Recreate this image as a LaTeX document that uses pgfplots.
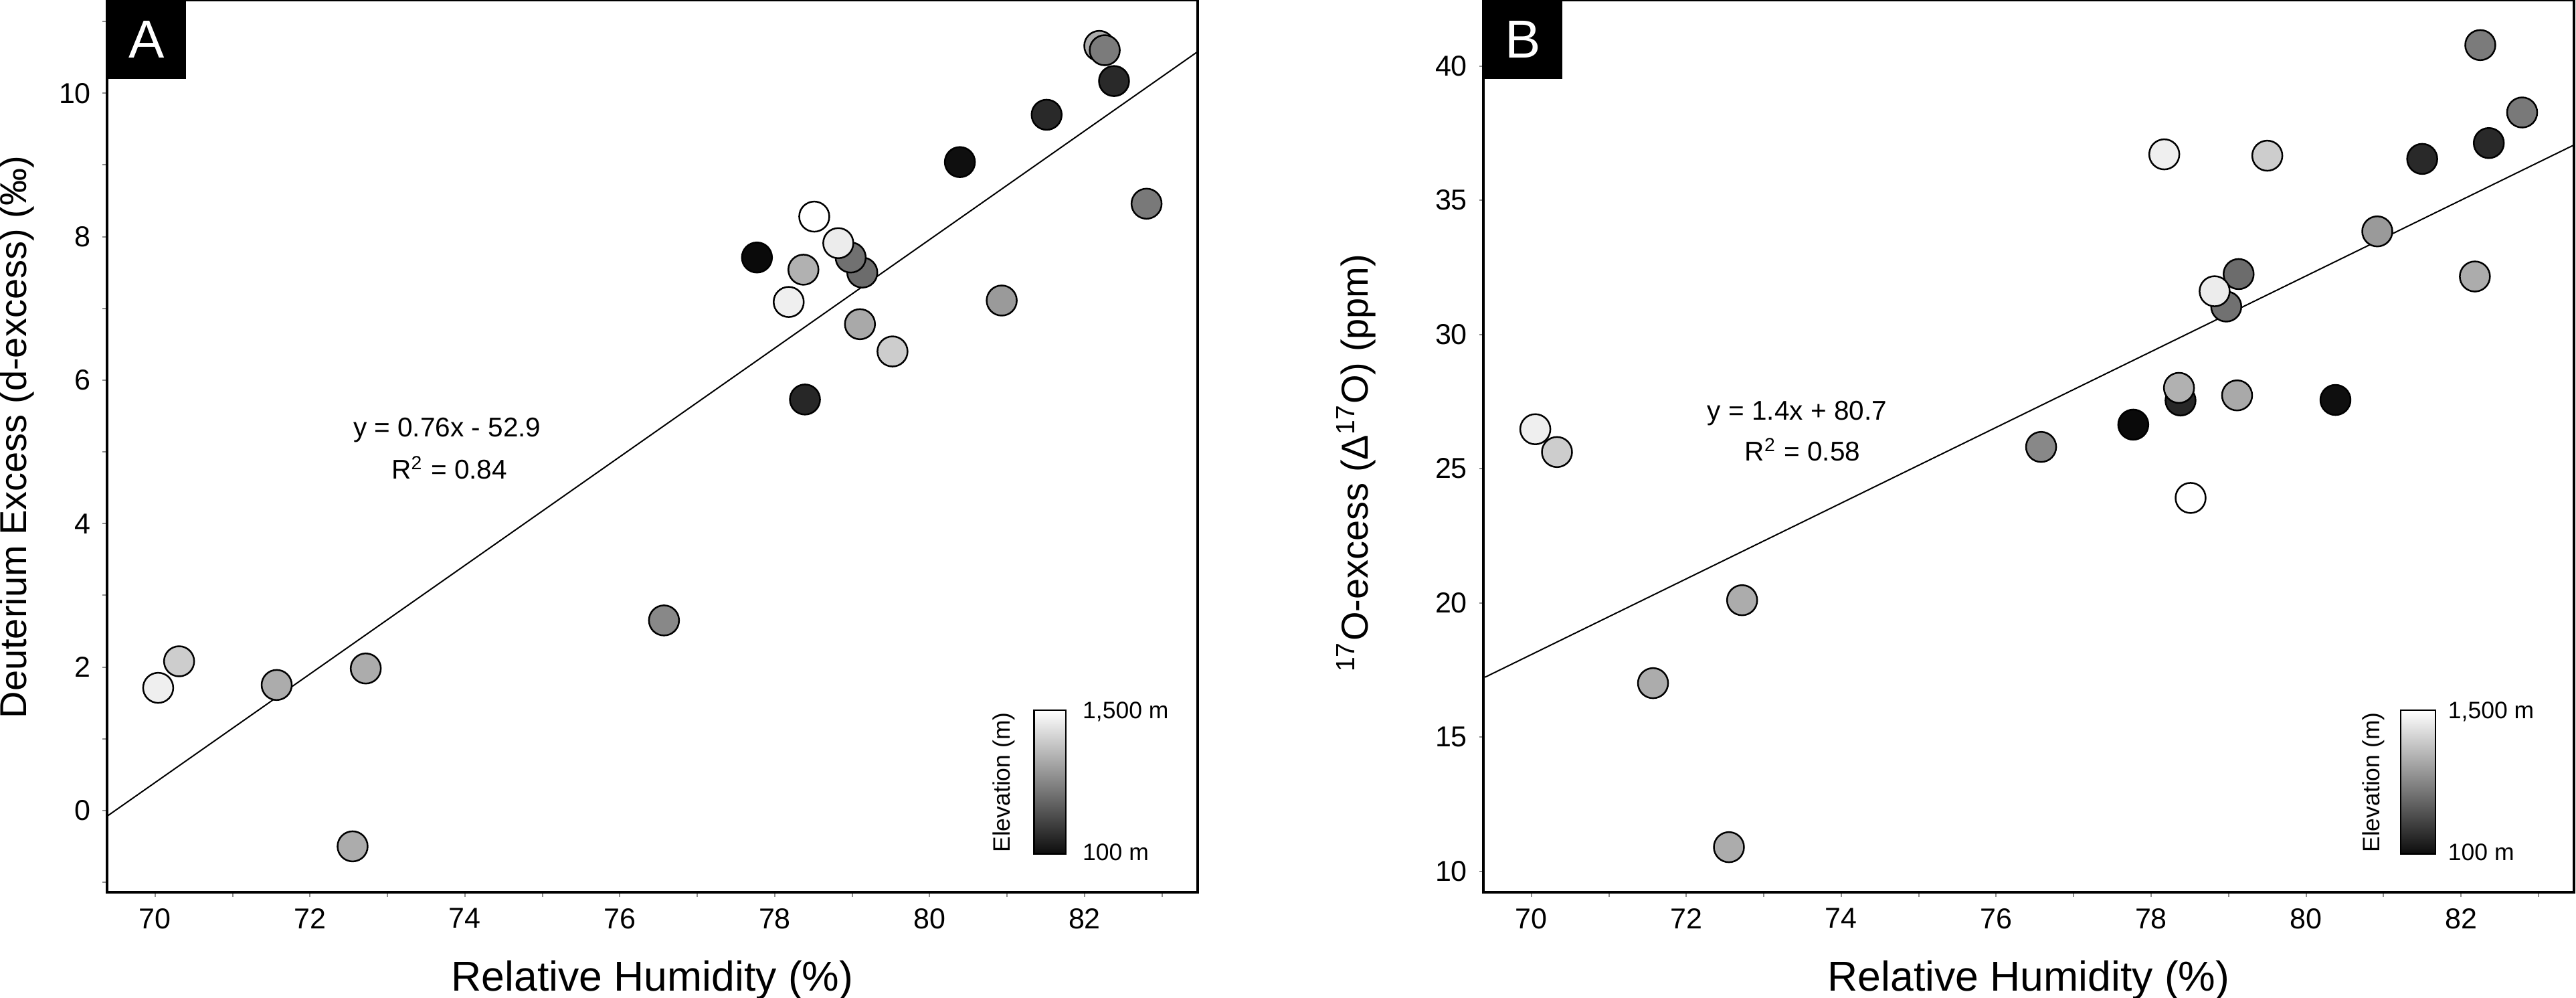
\documentclass[border=0pt]{standalone}
\usepackage{fontspec}
\setmainfont{Liberation Sans}
\usepackage{pgfplots}
\usepackage{pgfplotstable}
\pgfplotsset{compat=1.18}

\pgfplotstableread{
x y g
70.04 1.71 0.93
70.31 2.08 0.80
71.57 1.75 0.67
72.72 1.98 0.67
72.55 -0.50 0.67
76.57 2.65 0.53
77.77 7.71 0.04
78.18 7.09 0.93
78.37 7.54 0.69
78.39 5.73 0.15
78.51 8.28 1.00
79.13 7.50 0.42
78.98 7.71 0.44
78.82 7.91 0.92
79.10 6.78 0.66
79.52 6.40 0.80
80.39 9.04 0.06
80.93 7.11 0.60
81.51 9.70 0.16
82.19 10.66 0.67
82.26 10.60 0.48
82.38 10.17 0.16
82.80 8.46 0.47
}\dataA

\pgfplotstableread{
x y g
70.05 26.47 0.93
70.33 25.62 0.80
71.57 17.01 0.67
72.72 20.10 0.67
72.55 10.90 0.67
76.58 25.81 0.53
77.77 26.64 0.04
78.17 36.71 0.93
78.38 27.54 0.15
78.36 28.01 0.69
78.51 23.91 1.00
78.97 31.04 0.44
79.13 32.25 0.42
78.82 31.61 0.92
79.11 27.73 0.66
79.50 36.66 0.80
80.38 27.56 0.06
80.92 33.84 0.60
81.50 36.54 0.16
82.18 32.16 0.67
82.25 40.78 0.48
82.36 37.13 0.16
82.79 38.27 0.47
}\dataB

\pgfplotsset{
  myaxis/.style={
    scale only axis, width=326pt, height=266.6pt,
    anchor=south west,
    xmin=69.38, xmax=83.46,
    xtick={70,72,...,82}, minor xtick={71,73,...,83},
    xtick pos=bottom, ytick pos=left,
    tick align=outside,
    tick style={black!45, line width=0.4pt},
    major tick length=1.3pt, minor tick length=1.3pt,
    axis line style={black, line width=0.7pt},
    ticklabel style={font=\fontsize{8.6}{10}\selectfont},
    xlabel={Relative Humidity (\%)},
    xlabel style={font=\fontsize{12.5}{14}\selectfont, at={(axis description cs:0.5,0)}, anchor=center, yshift=-26.2pt},
    ylabel style={font=\fontsize{11.2}{13}\selectfont, anchor=center},
    colormap={bw}{gray(0cm)=(0); gray(1cm)=(1)},
    point meta min=0, point meta max=1,
    clip=false,
    /pgf/number format/assume math mode=true,
  },
  pts/.style={scatter, only marks, mark=*, mark size=4.5pt,
    scatter/use mapped color={draw=black, fill=mapped color, line width=0.5pt},
    point meta=explicit},
}

\begin{document}
\begin{tikzpicture}
\useasboundingbox (0,0) rectangle (770pt,298pt);

% Panel A
\begin{axis}[myaxis, at={(32pt,31.4pt)},
  ymin=-1.14, ymax=11.3,
  ytick={0,2,...,10}, minor ytick={-1,1,...,11},
  ylabel={Deuterium Excess (d-excess) (‰)},
  ylabel style={at={(axis description cs:-0.0828,0.51)}},
]
\addplot[black, line width=0.4pt] coordinates {(69.38,-0.08) (83.46,10.58)};
\addplot[pts] table[x=x, y=y, meta=g] {\dataA};
\node[font=\fontsize{8.1}{10}\selectfont] at (axis cs:73.77,5.30) {y = 0.76x - 52.9};
\node[font=\fontsize{8.1}{10}\selectfont] at (axis cs:73.80,4.78) {R\textsuperscript{2} = 0.84};
\fill[black] (rel axis cs:0,1) rectangle (rel axis cs:0.0724,0.9115);
\node[white, font=\fontsize{16}{18}\selectfont] at (rel axis cs:0.0362,0.9558) {A};
\shade[bottom color=black!95, top color=white] (rel axis cs:0.850,0.043) rectangle (rel axis cs:0.879,0.204);
\draw[black, line width=0.5pt] (rel axis cs:0.850,0.043) rectangle (rel axis cs:0.879,0.204);
\node[anchor=west, inner sep=0pt, font=\fontsize{7.1}{9}\selectfont] at (rel axis cs:0.894,0.202) {1,500 m};
\node[anchor=west, inner sep=0pt, font=\fontsize{7.1}{9}\selectfont] at (rel axis cs:0.894,0.045) {100 m};
\node[rotate=90, inner sep=0pt, font=\fontsize{7.1}{9}\selectfont] at (rel axis cs:0.822,0.123) {Elevation (m)};
\end{axis}

% Panel B
\begin{axis}[myaxis, at={(443.4pt,31.4pt)},
  ymin=9.22, ymax=42.46,
  ytick={10,15,...,40},
  ylabel={\textsuperscript{17}O-excess (Δ\textsuperscript{17}O) (ppm)},
  ylabel style={at={(axis description cs:-0.1168,0.481)}},
]
\addplot[black, line width=0.4pt] coordinates {(69.4,17.23) (83.46,37.06)};
\addplot[pts] table[x=x, y=y, meta=g] {\dataB};
\node[font=\fontsize{8.1}{10}\selectfont] at (axis cs:73.43,27.06) {y = 1.4x + 80.7};
\node[font=\fontsize{8.1}{10}\selectfont] at (axis cs:73.50,25.71) {R\textsuperscript{2} = 0.58};
\fill[black] (rel axis cs:0,1) rectangle (rel axis cs:0.0724,0.9115);
\node[white, font=\fontsize{16}{18}\selectfont] at (rel axis cs:0.0362,0.9558) {B};
\shade[bottom color=black!95, top color=white] (rel axis cs:0.841,0.043) rectangle (rel axis cs:0.873,0.204);
\draw[black, line width=0.5pt] (rel axis cs:0.841,0.043) rectangle (rel axis cs:0.873,0.204);
\node[anchor=west, inner sep=0pt, font=\fontsize{7.1}{9}\selectfont] at (rel axis cs:0.884,0.202) {1,500 m};
\node[anchor=west, inner sep=0pt, font=\fontsize{7.1}{9}\selectfont] at (rel axis cs:0.884,0.045) {100 m};
\node[rotate=90, inner sep=0pt, font=\fontsize{7.1}{9}\selectfont] at (rel axis cs:0.816,0.123) {Elevation (m)};
\end{axis}
\end{tikzpicture}
\end{document}
